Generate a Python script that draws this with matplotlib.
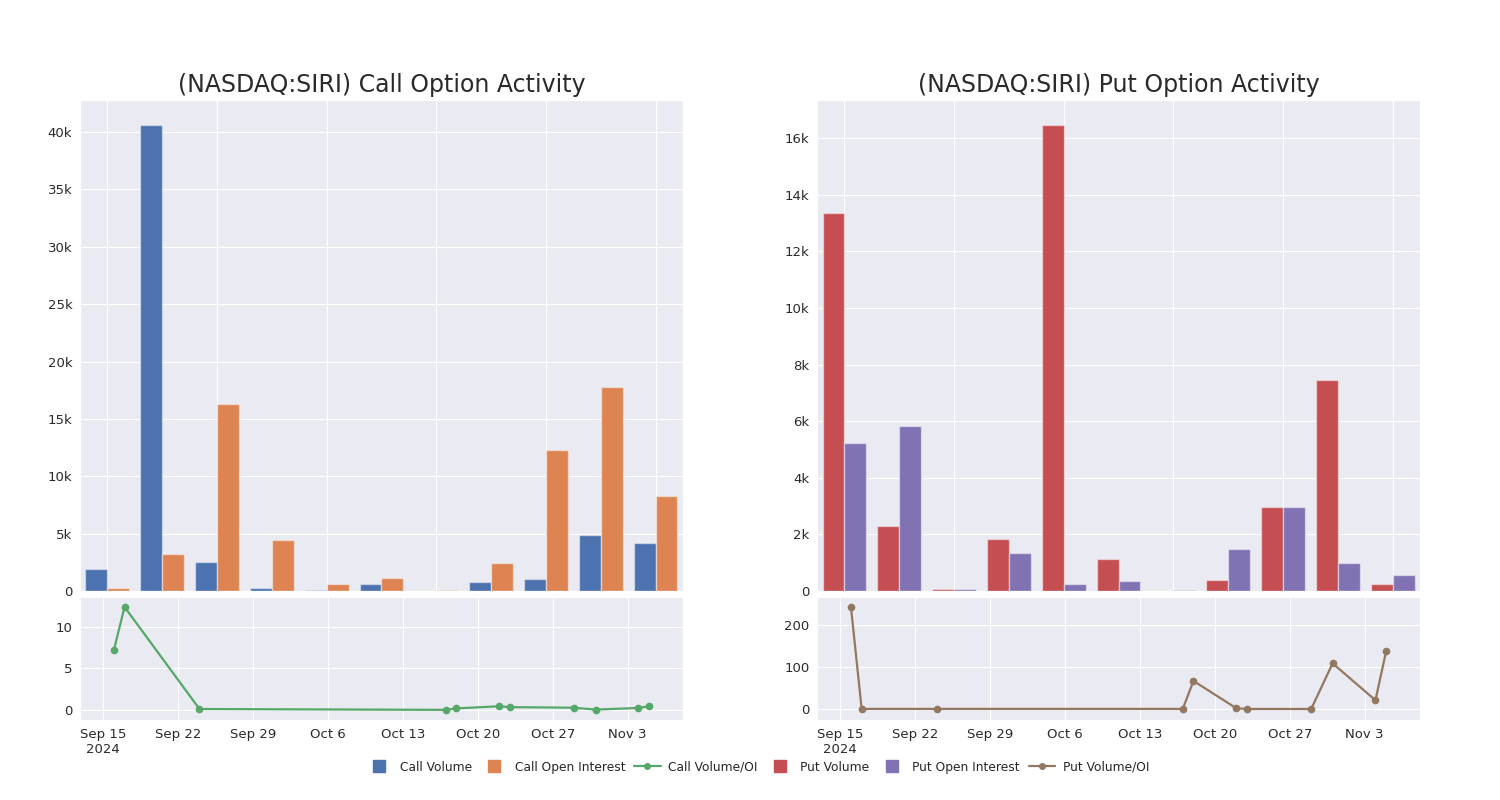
import matplotlib
matplotlib.use("Agg")
import matplotlib.pyplot as plt
import matplotlib.dates as mdates
from matplotlib.lines import Line2D
from matplotlib.ticker import FuncFormatter
import seaborn as sns
import numpy as np
import pandas as pd

sns.set_style("darkgrid")
plt.rcParams['font.family'] = ['DejaVu Sans']

# weekly bars (11 groups)
call_volume = [1950, 40650, 2530, 260, 120, 580, 30, 760, 1020, 4850, 4160]
call_oi = [230, 3230, 16300, 4450, 580, 1160, 120, 2470, 12330, 17800, 8310]
put_volume = [13350, 2290, 60, 1820, 16480, 1140, 10, 380, 2960, 7470, 230]
put_oi = [5230, 5820, 60, 1360, 230, 360, 50, 1480, 2960, 980, 550]

# daily volume / open interest ratio
ratio_dates = pd.to_datetime(["2024-09-16", "2024-09-17", "2024-09-24", "2024-10-17",
                              "2024-10-18", "2024-10-22", "2024-10-23", "2024-10-29",
                              "2024-10-31", "2024-11-04", "2024-11-05"])
call_ratio = [7.2, 12.4, 0.12, 0.02, 0.2, 0.45, 0.35, 0.28, 0.05, 0.25, 0.45]
put_ratio = [243, 0.5, 0.5, 0.5, 67, 2, 0.3, 0.3, 109, 21, 138]

titles = ["(NASDAQ:SIRI) Call Option Activity", "(NASDAQ:SIRI) Put Option Activity"]
legend_labels = ["Call Volume", "Call Open Interest", "Call Volume/OI",
                 "Put Volume", "Put Open Interest", "Put Volume/OI"]

pal = sns.color_palette("deep")
c_blue, c_orange, c_green, c_red, c_purple, c_brown = pal[0], pal[1], pal[2], pal[3], pal[4], pal[5]

fig = plt.figure(figsize=(15, 8), dpi=100)


def k_fmt(v, pos):
    if v == 0:
        return "0"
    return "%dk" % round(v / 1000)


def date_fmt(v, pos):
    d = mdates.num2date(v)
    s = d.strftime("%b ") + str(d.day)
    if pos == 0:
        s += "\n2024"
    return s


def make_panel(left, vol, oi, ratio, col_a, col_b, col_line, title, yticks, ytop, rlim, rticks):
    bar_ax = fig.add_axes([left, 0.26125, 0.402, 0.61375])  # llx, lly, w, h
    x = np.arange(len(vol))
    w = 0.4
    bar_ax.bar(x - w / 2, vol, w, color=col_a, edgecolor=(1, 1, 1, 0.45), linewidth=1)
    bar_ax.bar(x + w / 2, oi, w, color=col_b, edgecolor=(1, 1, 1, 0.45), linewidth=1)
    bar_ax.set_xlim(-0.5, 10.5)
    bar_ax.set_xticks(np.arange(0, 11, 2))
    bar_ax.set_xticklabels([])
    bar_ax.set_yticks(yticks)
    bar_ax.yaxis.set_major_formatter(FuncFormatter(k_fmt))
    bar_ax.set_ylim(0, ytop)
    bar_ax.tick_params(axis='y', labelsize=9.5, colors='#2a2a2a', pad=2)
    bar_ax.set_title(title, fontsize=17, color='#2a2a2a', pad=6)

    line_ax = fig.add_axes([left, 0.1, 0.402, 0.15375])
    line_ax.plot(ratio_dates, ratio, color=col_line, marker='o', markersize=4.5, linewidth=1.6)
    line_ax.set_xlim(pd.Timestamp("2024-09-12 20:00"), pd.Timestamp("2024-11-08 04:00"))
    line_ax.xaxis.set_major_locator(mdates.WeekdayLocator(byweekday=mdates.SU))
    line_ax.xaxis.set_major_formatter(FuncFormatter(date_fmt))
    line_ax.set_ylim(*rlim)
    line_ax.set_yticks(rticks)
    line_ax.tick_params(labelsize=9.5, colors='#2a2a2a', pad=2)
    return bar_ax, line_ax


make_panel(0.0533, call_volume, call_oi, call_ratio, c_blue, c_orange, c_green,
           titles[0], [0, 5000, 10000, 15000, 20000, 25000, 30000, 35000, 40000], 42800,
           (-1.2, 13.6), [0, 5, 10])
make_panel(0.5447, put_volume, put_oi, put_ratio, c_red, c_purple, c_brown,
           titles[1], [0, 2000, 4000, 6000, 8000, 10000, 12000, 14000, 16000], 17350,
           (-26, 267), [0, 100, 200])

handles = [
    Line2D([], [], linestyle='none', marker='s', markersize=9, color=c_blue),
    Line2D([], [], linestyle='none', marker='s', markersize=9, color=c_orange),
    Line2D([], [], color=c_green, marker='o', markersize=4, linewidth=1.6),
    Line2D([], [], linestyle='none', marker='s', markersize=9, color=c_red),
    Line2D([], [], linestyle='none', marker='s', markersize=9, color=c_purple),
    Line2D([], [], color=c_brown, marker='o', markersize=4, linewidth=1.6),
]
fig.legend(handles, legend_labels, loc='center', bbox_to_anchor=(0.505, 0.041), ncol=6,
           frameon=False, fontsize=8.8, handlelength=2.2, columnspacing=0.7, handletextpad=0.6)

fig.savefig("out.png", dpi=100)
